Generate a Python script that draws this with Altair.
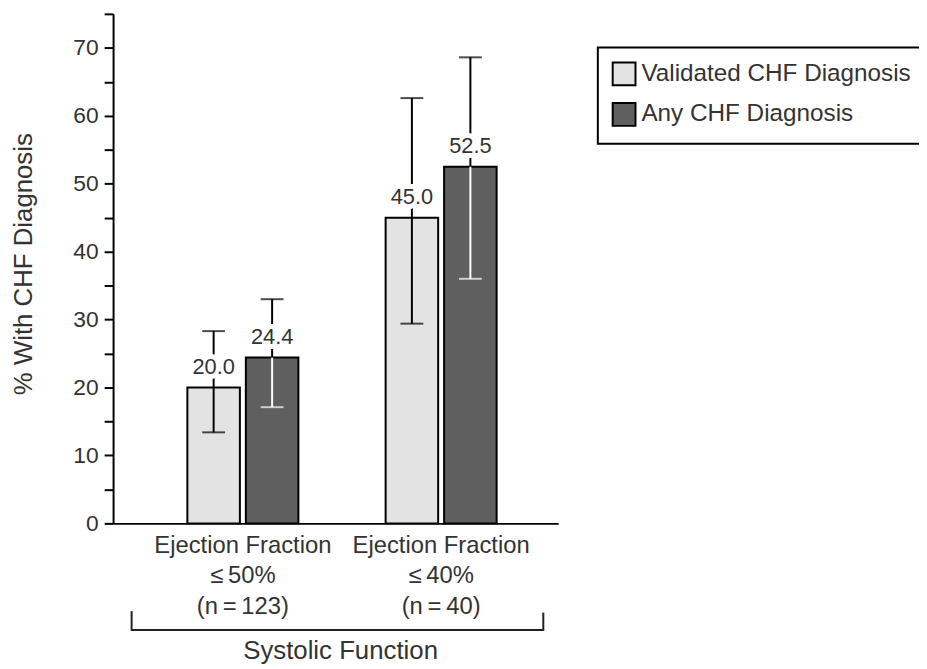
import altair as alt
import pandas as pd

groups = ["Ejection Fraction\n\u2264\u200950%\n(n\u2009=\u2009123)", "Ejection Fraction\n\u2264\u200940%\n(n\u2009=\u200940)"]
series = ["Validated CHF Diagnosis", "Any CHF Diagnosis"]
validated = [20.0, 45.0]
validated_lo = [13.4, 29.4]
validated_hi = [28.3, 62.6]
any_chf = [24.4, 52.5]
any_lo = [17.1, 36.0]
any_hi = [33.0, 68.6]
colors = ["#e3e3e3", "#5f5f5f"]
y_ticks = list(range(0, 80, 5))

rows = []
for i, g in enumerate(groups):
    rows.append(dict(group=g, series=series[0], value=validated[i], lo=validated_lo[i], hi=validated_hi[i], label=f"{validated[i]:.1f}"))
    rows.append(dict(group=g, series=series[1], value=any_chf[i], lo=any_lo[i], hi=any_hi[i], label=f"{any_chf[i]:.1f}"))
df = pd.DataFrame(rows)

FONT = "Liberation Sans"
TXT = "#333333"

x_axis = alt.Axis(
    labelExpr="split(datum.value, '\\n')", labelAngle=0, ticks=False,
    labelFontSize=24, labelLineHeight=31, labelPadding=10, labelBaseline="top",
    domainColor="black", domainWidth=2, labelLimit=400,
    title="Systolic Function", titleFontSize=26, titleFontWeight="normal",
    titleX=229, titleY=136, titleBaseline="alphabetic", titleAlign="center",
)
x_scale = alt.Scale(paddingInner=0.44, paddingOuter=0.3425, align=0.547)
y_scale = alt.Scale(domain=[0, 75], nice=False, zero=True)
y_axis = alt.Axis(values=y_ticks, labelExpr="datum.value % 10 == 0 ? datum.label : ''",
                  grid=False, ticks=True, tickSize=9, tickWidth=2, tickColor="black",
                  domainColor="black", domainWidth=2, labelPadding=6, labelFontSize=23,
                  labelOverlap=False,
                  title="% With CHF Diagnosis", titleFontSize=26, titleFontWeight="normal",
                  titleX=-90, titleY=252, titleAlign="center", titleBaseline="middle")


def X():
    return alt.X("group:N", sort=groups, scale=x_scale, axis=x_axis)


def XO():
    return alt.XOffset("series:N", sort=series, scale=alt.Scale(paddingInner=0.1017, paddingOuter=0))


def Y(field):
    return alt.Y(field, scale=y_scale, axis=y_axis)


base = alt.Chart(df)

bars = base.mark_bar(stroke="black", strokeWidth=2).encode(
    x=X(), xOffset=XO(), y=Y("value:Q"),
    color=alt.Color("series:N", sort=series, scale=alt.Scale(domain=series, range=colors),
                    legend=alt.Legend(title=None, orient="none", legendX=489, legendY=34,
                                      symbolType="square", symbolSize=529, symbolStrokeColor="black",
                                      symbolStrokeWidth=2, symbolOpacity=1, labelFontSize=24.5,
                                      labelOffset=5, rowPadding=10, padding=14, strokeColor="black",
                                      labelLimit=400, labelColor=TXT, labelFont=FONT)),
)

upper = base.mark_rule(color="black", strokeWidth=2).encode(
    x=X(), xOffset=XO(), y=Y("value:Q"), y2="hi:Q")
upper_cap = base.mark_tick(color="black", thickness=2, size=23).encode(
    x=X(), xOffset=XO(), y=Y("hi:Q"))

lower_v = base.transform_filter(alt.datum.series == series[0]).mark_rule(color="black", strokeWidth=2).encode(
    x=X(), xOffset=XO(), y=Y("lo:Q"), y2="value:Q")
lower_v_cap = base.transform_filter(alt.datum.series == series[0]).mark_tick(color="black", thickness=2, size=23).encode(
    x=X(), xOffset=XO(), y=Y("lo:Q"))
lower_a = base.transform_filter(alt.datum.series == series[1]).mark_rule(color="white", strokeWidth=2).encode(
    x=X(), xOffset=XO(), y=Y("lo:Q"), y2="value:Q")
lower_a_cap = base.transform_filter(alt.datum.series == series[1]).mark_tick(color="white", thickness=2, size=23).encode(
    x=X(), xOffset=XO(), y=Y("lo:Q"))

halo = base.mark_text(fill="white", stroke="white", strokeWidth=10, strokeJoin="round",
                      fontSize=22, dy=-14, baseline="alphabetic", font=FONT).encode(
    x=X(), xOffset=XO(), y=Y("value:Q"), text="label:N")
labels = base.mark_text(color=TXT, fontSize=22, dy=-14, baseline="alphabetic", font=FONT).encode(
    x=X(), xOffset=XO(), y=Y("value:Q"), text="label:N")

one = alt.Chart(pd.DataFrame({"a": [0]}))
br_h = one.mark_rule(color="#222222", strokeWidth=2).encode(
    x=alt.value(18.7), x2=alt.value(434), y=alt.value(621.5))
br_l = one.mark_rule(color="#222222", strokeWidth=2).encode(
    x=alt.value(18.7), y=alt.value(602.5), y2=alt.value(622.5))
br_r = one.mark_rule(color="#222222", strokeWidth=2).encode(
    x=alt.value(434), y=alt.value(604), y2=alt.value(622.5))

chart = alt.layer(bars, upper, upper_cap, lower_v, lower_v_cap, lower_a, lower_a_cap,
                  halo, labels, br_h, br_l, br_r).properties(
    width=449, height=514, autosize="none",
    padding={"left": 106, "top": 3, "right": 364, "bottom": 144},
).configure_view(stroke=None).configure_axis(
    labelFont=FONT, titleFont=FONT, labelColor=TXT, titleColor=TXT,
).configure_legend(strokeWidth=2)

chart.save("out.html", embed_options={"renderer": "svg", "actions": False})
